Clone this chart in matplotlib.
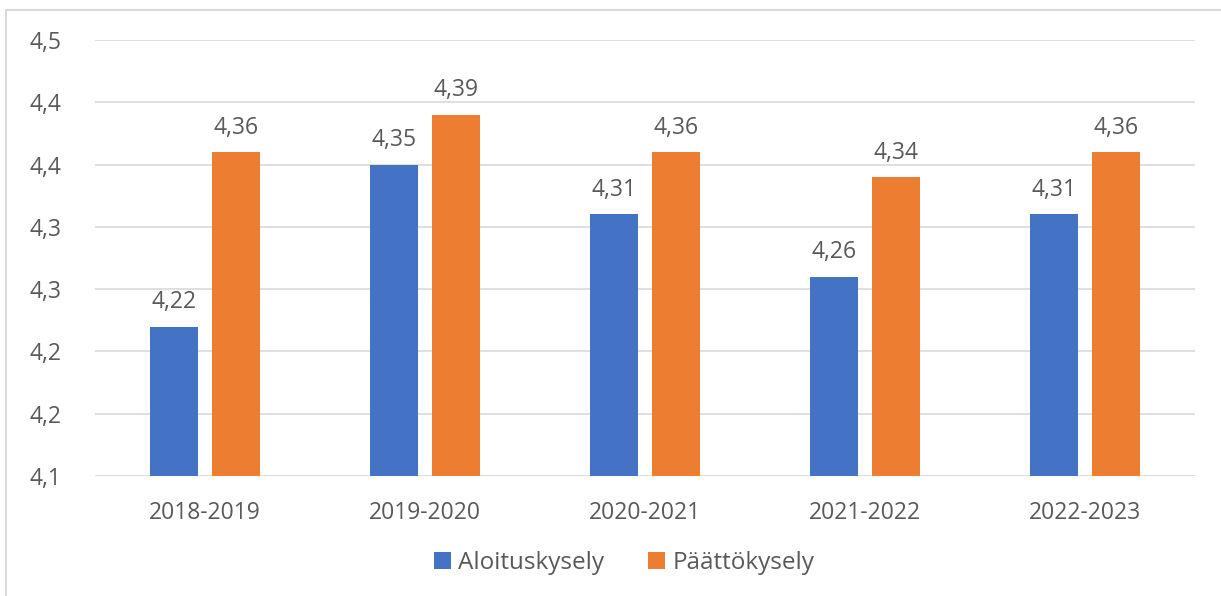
import matplotlib.pyplot as plt
import numpy as np
from matplotlib.patches import Rectangle

years = ['2018-2019', '2019-2020', '2020-2021', '2021-2022', '2022-2023']
aloitus = [4.22, 4.35, 4.31, 4.26, 4.31]
paatto = [4.36, 4.39, 4.36, 4.34, 4.36]
series_names = ['Aloituskysely', 'Päättökysely']
y_ticks = [4.10, 4.15, 4.20, 4.25, 4.30, 4.35, 4.40, 4.45]
y_tick_labels = ['4,1', '4,2', '4,2', '4,3', '4,3', '4,4', '4,4', '4,5']

blue = '#4472C4'
orange = '#ED7D31'
text_col = '#595959'

plt.rcParams['font.family'] = ['Open Sans', 'DejaVu Sans']

fig = plt.figure(figsize=(12.21, 5.96), dpi=100)
ax = fig.add_axes([95 / 1221, 1 - 476 / 596, 1100 / 1221, 436 / 596])

# light frame round the chart area
fig.patches.append(Rectangle((6 / 1221, -0.05), 1.2, 1 - 10 / 596 + 0.05,
                             transform=fig.transFigure, fill=False,
                             edgecolor='#D9D9D9', linewidth=1.5))

x = np.arange(len(years))
w = 0.218
off = 0.141
bottom = y_ticks[0]
b1 = ax.bar(x - off, np.array(aloitus) - bottom, w, bottom=bottom, color=blue,
            label=series_names[0], zorder=3)
b2 = ax.bar(x + off, np.array(paatto) - bottom, w, bottom=bottom, color=orange,
            label=series_names[1], zorder=3)

for bars, vals in [(b1, aloitus), (b2, paatto)]:
    for rect, v in zip(bars, vals):
        ax.annotate(f'{v:.2f}'.replace('.', ','),
                    (rect.get_x() + rect.get_width() / 2, v),
                    xytext=(0, 9), textcoords='offset points',
                    ha='center', va='bottom', fontsize=16.5, color=text_col)

ax.set_xlim(-0.5, len(years) - 0.5)
ax.set_ylim(y_ticks[0], y_ticks[-1])
ax.set_yticks(y_ticks)
ax.set_yticklabels(y_tick_labels)
ax.set_xticks(x)
ax.set_xticklabels(years)
ax.tick_params(axis='both', length=0, labelsize=16.5, labelcolor=text_col)
ax.tick_params(axis='y', pad=24)
ax.tick_params(axis='x', pad=18)

ax.grid(axis='y', color='#D9D9D9', linewidth=1.2, zorder=0)
for s in ax.spines.values():
    s.set_visible(False)

leg = fig.legend(handles=[b1, b2], loc='center', bbox_to_anchor=(0.511, 1 - 563 / 596),
                 ncol=2, frameon=False, fontsize=17.5, handlelength=0.7,
                 handleheight=0.7, handletextpad=0.3, columnspacing=1.8)
for t in leg.get_texts():
    t.set_color(text_col)

fig.savefig('out.png', dpi=100)
